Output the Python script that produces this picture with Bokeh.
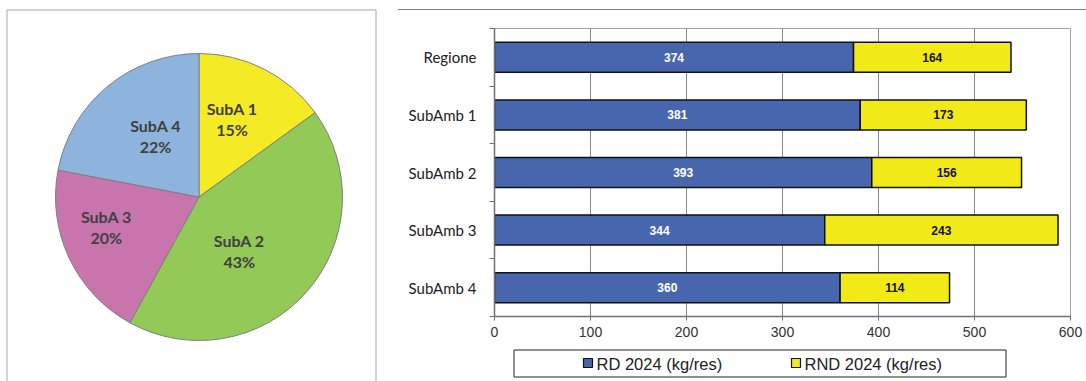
import math

from bokeh.core.properties import value
from bokeh.embed import file_html
from bokeh.layouts import column, row
from bokeh.models import ColumnDataSource, Div, FixedTicker, Range1d
from bokeh.plotting import figure
from bokeh.resources import INLINE

# ---- data -------------------------------------------------------------
pie_names = ["SubA 1", "SubA 2", "SubA 3", "SubA 4"]
pie_share = [15, 43, 20, 22]  # percent
pie_colors = ["#F5EB25", "#92C957", "#C875AE", "#8EB4DE"]

categories = ["Regione", "SubAmb 1", "SubAmb 2", "SubAmb 3", "SubAmb 4"]
rd_2024 = [374, 381, 393, 344, 360]    # RD 2024 (kg/res)
rnd_2024 = [164, 173, 156, 243, 114]   # RND 2024 (kg/res)
x_ticks = [0, 100, 200, 300, 400, 500, 600]

series_labels = ["RD 2024 (kg/res)", "RND 2024 (kg/res)"]
series_colors = ["#4866AE", "#F2EA17"]

# ---- pie panel (pixel-like coordinates, y up) ---------------------------
PW, PH = 390, 381
pie = figure(width=PW, height=PH, x_range=Range1d(0, PW), y_range=Range1d(0, PH),
             x_axis_location=None, y_axis_location=None, toolbar_location=None,
             output_backend="svg", min_border=0, outline_line_color=None)
pie.grid.visible = False

# panel box (bottom edge runs off the page)
pie.quad(left=[6.5], right=[375.5], top=[PH - 9.5], bottom=[-10],
         fill_color=None, line_color="#A6A6A6", line_width=1)

cx, cy, R = 198.5, PH - 196.5, 143.5
total = sum(pie_share)
starts, ends, cum = [], [], 0.0
for s in pie_share:
    starts.append(math.radians(90 - 360 * cum / total))
    cum += s
    ends.append(math.radians(90 - 360 * cum / total))

pie.wedge(x=cx, y=cy, radius=R, start_angle=starts, end_angle=ends,
          direction="clock", fill_color=pie_colors, line_color="#7F7F7F",
          line_width=1)

# label placement: radial fraction and angular nudge per slice
label_r = [0.59, 0.47, 0.68, 0.52]
label_nudge = [-4, 12, 7, 4]
lx, ly_name, ly_pct, pct_txt = [], [], [], []
cum = 0.0
for i, s in enumerate(pie_share):
    mid = 360 * (cum + s / 2) / total + label_nudge[i]   # clockwise from top
    cum += s
    r = R * label_r[i]
    x = cx + r * math.sin(math.radians(mid))
    y = cy + r * math.cos(math.radians(mid))
    lx.append(x)
    ly_name.append(y + 10.5)
    ly_pct.append(y - 10.5)
    pct_txt.append(f"{s}%")

lbl_style = dict(text_font=value("Lato"), text_font_style="bold",
                 text_font_size="16px", text_color="#404040",
                 text_align="center", text_baseline="middle")
pie.text(x=lx, y=ly_name, text=pie_names, **lbl_style)
pie.text(x=lx, y=ly_pct, text=pct_txt, **lbl_style)

# ---- right panel: top rule -----------------------------------------------
RW = 1086 - PW
rule = Div(text='<div style="position:absolute; left:8px; top:9px; width:688px; '
                'height:0; border-top:1px solid #808080;"></div>',
           width=RW, height=24, margin=0)

# ---- stacked bar chart ----------------------------------------------------
n = len(categories)
ypos = [i + 0.5 for i in range(n)]
src = ColumnDataSource(dict(
    y=ypos, rd=rd_2024, rnd=rnd_2024,
    left2=rd_2024,
    right2=[a + b for a, b in zip(rd_2024, rnd_2024)],
    mid1=[a / 2 for a in rd_2024],
    mid2=[a + b / 2 for a, b in zip(rd_2024, rnd_2024)],
    t1=[str(v) for v in rd_2024], t2=[str(v) for v in rnd_2024],
))

BL, BR = 104, 16      # side borders of the bar panel
FW = RW - BL - BR     # frame width
bar = figure(frame_width=FW, frame_height=288,
             x_range=Range1d(0, 600), y_range=Range1d(n, 0),
             toolbar_location=None, output_backend="svg",
             min_border_left=BL, min_border_right=BR,
             min_border_top=4, min_border_bottom=29,
             outline_line_color="#A0A0A0", outline_line_width=1)

bar.hbar(y="y", left=0, right="rd", height=0.52, source=src,
         fill_color=series_colors[0], line_color="#111111", line_width=1.5)
bar.hbar(y="y", left="left2", right="right2", height=0.52, source=src,
         fill_color=series_colors[1], line_color="#111111", line_width=1.5)

val_style = dict(text_font=value("Liberation Sans"), text_font_style="bold",
                 text_font_size="12px", text_align="center", text_baseline="middle")
bar.text(x="mid1", y="y", text="t1", source=src, text_color="white", **val_style)
bar.text(x="mid2", y="y", text="t2", source=src, text_color="#111111", **val_style)

# x axis
bar.xaxis.ticker = FixedTicker(ticks=x_ticks)
bar.xaxis.major_tick_out = 4
bar.xaxis.major_tick_in = 0
bar.xaxis.minor_tick_out = 0
bar.xaxis.minor_tick_in = 0
bar.xaxis.axis_line_color = "#707070"
bar.xaxis.axis_line_width = 1.5
bar.xaxis.major_tick_line_color = "#707070"
bar.xaxis.major_label_text_font = "Liberation Sans"
bar.xaxis.major_label_text_font_size = "14px"
bar.xaxis.major_label_text_color = "#333333"
bar.xaxis.major_label_standoff = 6

# y axis: labels at category centres, tick marks between categories
bar.yaxis.ticker = FixedTicker(ticks=ypos, minor_ticks=list(range(n + 1)))
bar.yaxis.major_label_overrides = {p: c for p, c in zip(ypos, categories)}
bar.yaxis.major_tick_out = 0
bar.yaxis.major_tick_in = 0
bar.yaxis.minor_tick_out = 5
bar.yaxis.minor_tick_in = 0
bar.yaxis.minor_tick_line_color = "#707070"
bar.yaxis.axis_line_color = "#707070"
bar.yaxis.axis_line_width = 1.5
bar.yaxis.major_label_text_font = "Lato"
bar.yaxis.major_label_text_font_size = "15px"
bar.yaxis.major_label_text_color = "#222222"
bar.yaxis.major_label_standoff = 13

bar.xgrid.grid_line_color = "#8A8A8A"
bar.xgrid.grid_line_width = 1
bar.ygrid.visible = False

# ---- legend strip (same side borders, x in panel pixels) --------------------
leg = figure(frame_width=FW, frame_height=36,
             x_range=Range1d(BL, BL + FW), y_range=Range1d(36, 0),
             x_axis_location=None, y_axis_location=None, toolbar_location=None,
             output_backend="svg", min_border_left=BL, min_border_right=BR,
             min_border_top=0, min_border_bottom=0, outline_line_color=None)
leg.grid.visible = False
leg.quad(left=[123.5], right=[615.5], top=[4.5], bottom=[31.5],
         fill_color="white", line_color="#222222", line_width=1)
key_x = [197.5, 405.5]
leg.rect(x=key_x, y=[17.5, 17.5], width=9, height=9, fill_color=series_colors,
         line_color="#111111", line_width=1.2)
leg.text(x=[k + 8.5 for k in key_x], y=[18, 18], text=series_labels,
         text_font=value("Liberation Sans"), text_font_size="16.5px",
         text_color="#222222", text_align="left", text_baseline="middle")

layout = row(pie, column(rule, bar, leg))
open("out.html", "w").write(file_html(layout, INLINE))
